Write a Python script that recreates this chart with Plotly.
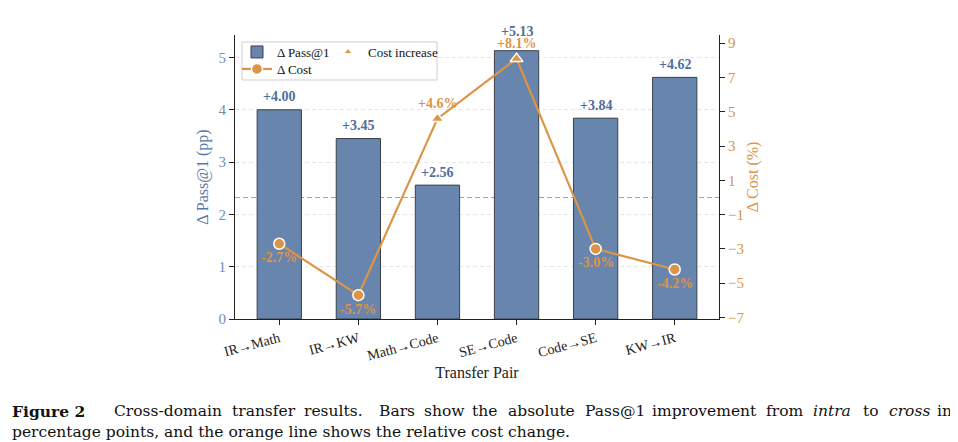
import plotly.graph_objects as go

# =============================================================================
# DATA
# =============================================================================

pairs = ["IR→Math", "IR→KW", "Math→Code", "SE→Code", "Code→SE", "KW→IR"]
pass_gain = [4.00, 3.45, 2.56, 5.13, 3.84, 4.62]
cost_change = [-2.7, -5.7, 4.6, 8.1, -3.0, -4.2]

BLUE = "#6886ad"
BLUE_TXT = "#4f6e9c"
ORANGE = "#dd9445"
FONT = "Liberation Serif"
CAP = "DejaVu Serif"

# page is 958 x 442, body margin puts the figure 8px in
W, H, OFF = 958, 442, 8
# plot area in page pixels
L, R, T, B = 235, 719, 35, 319


def px(x):
    return (x - L) / (R - L)


def py(y):
    return (B - y) / (B - T)


pass_labels = [f"+{v:.2f}" for v in pass_gain]
cost_labels = [f"{v:+.1f}%" for v in cost_change]
symbols = ["triangle-up" if v > 0 else "circle" for v in cost_change]
pos_x = [p for p, v in zip(pairs, cost_change) if v > 0]
pos_y = [v for v in cost_change if v > 0]
# label offsets (px); the SE->Code bar label is pushed up to clear the cost label
bar_shift = [13, 13, 13, 19, 13, 13]

fig = go.Figure()

fig.add_trace(go.Bar(
    x=pairs, y=pass_gain, width=0.56, name="Δ Pass@1",
    marker=dict(color=BLUE, line=dict(color="#3b4048", width=1)),
    legend="legend",
))

# triangles only (legend entry), drawn under the main line
fig.add_trace(go.Scatter(
    x=pos_x, y=pos_y, yaxis="y2", mode="markers", name="Cost increase",
    marker=dict(symbol="triangle-up", size=7, color=ORANGE,
                line=dict(color="white", width=1)),
    legend="legend2", cliponaxis=False,
))

fig.add_trace(go.Scatter(
    x=pairs, y=cost_change, yaxis="y2", mode="lines+markers",
    name="Δ Cost",
    line=dict(color=ORANGE, width=2.2),
    marker=dict(symbol=symbols, size=11, color=ORANGE,
                line=dict(color="white", width=1.5)),
    legend="legend3", cliponaxis=False,
))

for p, v, lab, s in zip(pairs, pass_gain, pass_labels, bar_shift):
    fig.add_annotation(x=p, y=v, xref="x", yref="y", text=f"<b>{lab}</b>",
                       showarrow=False, yanchor="middle", yshift=s,
                       font=dict(family=FONT, size=14, color=BLUE_TXT))

for p, v, lab in zip(pairs, cost_change, cost_labels):
    fig.add_annotation(x=p, y=v, xref="x", yref="y2", text=f"<b>{lab}</b>",
                       showarrow=False, yanchor="middle",
                       yshift=15 if v > 0 else -14,
                       font=dict(family=FONT, size=14, color=ORANGE))

# zero-cost reference line
fig.add_shape(type="line", xref="paper", x0=0, x1=1, yref="y2", y0=0, y1=0,
              line=dict(color="#a0a0a0", width=1, dash="5px,3px"), layer="below")

# legend frame
fig.add_shape(type="rect", xref="paper", yref="paper",
              x0=px(242), x1=px(437), y0=py(80), y1=py(42),
              line=dict(color="#cfcfcf", width=1), fillcolor="white", layer="above")

leg = dict(xanchor="left", yanchor="middle", bgcolor="rgba(0,0,0,0)",
           font=dict(size=13, color="#111111"), itemwidth=30)

fig.update_layout(
    width=W - OFF, height=H - OFF,
    margin=dict(l=L - OFF, r=W - R, t=T - OFF, b=H - B),
    plot_bgcolor="white", paper_bgcolor="white",
    font=dict(family=FONT, size=14, color="#222222"),
    showlegend=True,
    legend=dict(x=px(237), y=py(52), **leg),
    legend3=dict(x=px(237), y=py(69), **leg),
    legend2=dict(x=px(328), y=py(52), **leg),
    xaxis=dict(
        type="category", range=[-0.56, 5.56],
        showline=True, linecolor="#222222", linewidth=1.2,
        ticks="outside", ticklen=5, tickcolor="#222222",
        tickangle=-15, tickfont=dict(size=14, color="#222222"),
        title=dict(text="Transfer Pair", font=dict(size=16, color="#222222"),
                   standoff=4),
    ),
    yaxis=dict(
        range=[0, 5.43], tickvals=[0, 1, 2, 3, 4, 5],
        showline=True, linecolor="#222222", linewidth=1.2,
        ticks="outside", ticklen=5, tickcolor="#222222",
        tickfont=dict(size=15, color="#7090b2"),
        showgrid=True, gridcolor="#e6e6e6", griddash="4px,3px", gridwidth=1,
        zeroline=False,
        title=dict(text="Δ Pass@1 (pp)", font=dict(size=16, color="#5a78a5"),
                   standoff=5),
    ),
    yaxis2=dict(
        overlaying="y", side="right", range=[-7.09, 9.48],
        tickvals=[-7, -5, -3, -1, 1, 3, 5, 7, 9],
        ticktext=["−7", "−5", "−3", "−1", "1", "3", "5", "7", "9"],
        showline=True, linecolor="#222222", linewidth=1.2,
        ticks="outside", ticklen=5, tickcolor="#222222",
        tickfont=dict(size=15, color=ORANGE),
        showgrid=False, zeroline=False,
        title=dict(text="Δ Cost (%)", font=dict(size=16, color=ORANGE),
                   standoff=3),
    ),
)

# caption, line 1 is justified so words are placed one by one
line1 = [("<b>Figure 2</b>", 10), ("Cross-domain", 112), ("transfer", 230),
         ("results.", 302), ("Bars", 377), ("show", 422), ("the", 470),
         ("absolute", 506), ("Pass@1", 583), ("improvement", 650),
         ("from", 764), ("<i>intra</i>", 811), ("to", 861),
         ("<i>cross</i>", 887), ("in", 935)]
for word, x in line1:
    fig.add_annotation(text=word, xref="paper", yref="paper",
                       x=px(x), y=py(411), xanchor="left", yanchor="middle",
                       showarrow=False, font=dict(family=CAP, size=15.5, color="#111111"))
fig.add_annotation(text="percentage points, and the orange line shows the relative cost change.",
                   xref="paper", yref="paper",
                   x=px(10), y=py(432), xanchor="left", yanchor="middle",
                   showarrow=False, font=dict(family=CAP, size=15.5, color="#111111"))

fig.write_html("out.html")
